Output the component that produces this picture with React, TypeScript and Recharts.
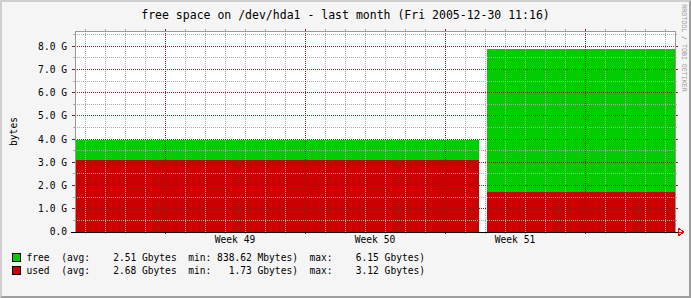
import React from 'react';
import { ComposedChart, Area, XAxis, YAxis, ReferenceLine, CartesianGrid } from 'recharts';

// time in days since start of the month window (Nov 30 11:16 .. Dec 30 11:16)
const timeDays = [0, 20.2, 20.4, 20.6, 30];
const usedGB: (number | null)[] = [3.12, 3.12, null, 1.73, 1.73];
const freeGB: (number | null)[] = [0.84, 0.84, null, 6.15, 6.15];

const weekTickDays = [8, 15, 22];
const weekTickLabels = ['Week 49', 'Week 50', 'Week 51'];
const weekGridDays = [4.5, 11.5, 18.5, 25.5];
const dayGridDays = [0.5, 1.5, 2.5, 3.5, 5.5, 6.5, 7.5, 8.5, 9.5, 10.5, 12.5, 13.5, 14.5, 15.5, 16.5, 17.5, 19.5, 20.5, 21.5, 22.5, 23.5, 24.5, 26.5, 27.5, 28.5, 29.5];
const yMajorTicks = [0, 1, 2, 3, 4, 5, 6, 7, 8];
const yMinorTicks = [0.5, 1.5, 2.5, 3.5, 4.5, 5.5, 6.5, 7.5, 8.5];
const yMax = 8.66;
const xMax = 30;

const seriesNames = ['free', 'used'];
const seriesColors = ['#00CC00', '#CC0000'];
const avgValues = ['2.51', '2.68'];
const avgUnits = ['Gbytes', 'Gbytes'];
const minValues = ['838.62', '1.73'];
const minUnits = ['Mbytes', 'Gbytes'];
const maxValues = ['6.15', '3.12'];
const maxUnits = ['Gbytes', 'Gbytes'];

const titleText = 'free space on /dev/hda1 - last month (Fri 2005-12-30 11:16)';
const yLabel = 'bytes';
const watermark = 'RRDTOOL / TOBI OETIKER';

const data = timeDays.map((t, i) => ({
  t,
  used: usedGB[i],
  total: usedGB[i] == null || freeGB[i] == null ? null : (usedGB[i] as number) + (freeGB[i] as number),
}));

const MONO = '"DejaVu Sans Mono", "Liberation Mono", monospace';
const MINOR = '#ababab';
const MAJOR = '#822020';

const gridShape = (color: string, tick: number, dotted: boolean) => (props: any) => {
  const { x1, y1, x2, y2 } = props;
  const dash = dotted ? '1 1' : undefined;
  if (Math.abs(x1 - x2) < 0.01) {
    const top = Math.min(y1, y2);
    const bot = Math.max(y1, y2);
    return (
      <g>
        <line x1={x1} x2={x1} y1={top} y2={bot} stroke={color} strokeDasharray={dash} />
        {tick > 0 && <line x1={x1} x2={x1} y1={top - tick} y2={top} stroke={color} />}
        {tick > 0 && <line x1={x1} x2={x1} y1={bot} y2={bot + tick} stroke={color} />}
      </g>
    );
  }
  const left = Math.min(x1, x2);
  const right = Math.max(x1, x2);
  return (
    <g>
      <line x1={left} x2={right} y1={y1} y2={y1} stroke={color} strokeDasharray={dash} />
      {tick > 0 && <line x1={left - tick} x2={left} y1={y1} y2={y1} stroke={color} />}
      {tick > 0 && <line x1={right} x2={right + tick} y1={y1} y2={y1} stroke={color} />}
    </g>
  );
};

const axisShape = (props: any) => {
  const { x1, y1, x2 } = props;
  const left = Math.min(x1, x2);
  const right = Math.max(x1, x2);
  return (
    <g>
      <line x1={left - 4} x2={right + 3} y1={y1} y2={y1} stroke="#000" />
      <polygon
        points={`${right + 3},${y1 - 4} ${right + 9},${y1} ${right + 3},${y1 + 4}`}
        fill="none"
        stroke="#ff0000"
      />
      <line x1={right + 3} x2={right + 9} y1={y1} y2={y1} stroke="#ff0000" />
    </g>
  );
};

const legendLine = (i: number) =>
  `${seriesNames[i].padEnd(6)}(avg: ${avgValues[i].padStart(7)} ${avgUnits[i]}  min: ${minValues[i].padStart(6)} ${minUnits[i]})  max: ${maxValues[i].padStart(7)} ${maxUnits[i]})`;

export default function App() {
  return (
    <div style={{ position: 'absolute', left: 0, top: 0, width: 691, height: 298, background: '#F5F5F5', overflow: 'hidden' }}>
      <div
        style={{
          position: 'absolute', left: 0, top: 0, width: 691, height: 298, boxSizing: 'border-box',
          borderTop: '2px solid #CFCFCF', borderLeft: '2px solid #CFCFCF',
          borderRight: '2px solid #9E9E9E', borderBottom: '2px solid #9E9E9E',
        }}
      />
      <div style={{ position: 'absolute', left: 0, top: 0 }}>
        <ComposedChart
          width={691}
          height={298}
          data={data}
          margin={{ top: 31, right: 16, bottom: 0, left: 0 }}
          style={{ shapeRendering: 'crispEdges' }}
        >
          <CartesianGrid horizontal={false} vertical={false} fill="#FFFFFF" />
          <XAxis
            dataKey="t"
            type="number"
            domain={[0, xMax]}
            ticks={weekTickDays}
            tickFormatter={(v: number) => weekTickLabels[weekTickDays.indexOf(v)] ?? ''}
            tickLine={false}
            axisLine={false}
            tickSize={0}
            tickMargin={4}
            height={66}
            interval={0}
            tick={{ fontSize: 9.6, fontFamily: MONO, fill: '#000' }}
          />
          <YAxis
            type="number"
            domain={[0, yMax]}
            ticks={yMajorTicks}
            allowDataOverflow
            tickFormatter={(v: number) => (v === 0 ? '0.0' : `${v.toFixed(1)} G`)}
            tickLine={false}
            axisLine={false}
            tickSize={3}
            tickMargin={5}
            width={75}
            interval={0}
            tick={{ fontSize: 9.6, fontFamily: MONO, fill: '#000' }}
          />
          <Area dataKey="total" type="linear" stroke="none" fill="#00CC00" fillOpacity={1} isAnimationActive={false} connectNulls={false} />
          <Area dataKey="used" type="linear" stroke="none" fill="#CC0000" fillOpacity={1} isAnimationActive={false} connectNulls={false} />
          {dayGridDays.map((d) => (
            <ReferenceLine key={`vd${d}`} x={d} ifOverflow="visible" shape={gridShape(MINOR, 2, true)} />
          ))}
          {yMinorTicks.map((v) => (
            <ReferenceLine key={`hm${v}`} y={v} ifOverflow="visible" shape={gridShape(MINOR, 2, true)} />
          ))}
          {weekGridDays.map((d) => (
            <ReferenceLine key={`vw${d}`} x={d} ifOverflow="visible" shape={gridShape(MAJOR, 2, true)} />
          ))}
          {yMajorTicks.filter((v) => v > 0).map((v) => (
            <ReferenceLine key={`hM${v}`} y={v} ifOverflow="visible" shape={gridShape(MAJOR, 3, true)} />
          ))}
          <ReferenceLine x={0} ifOverflow="visible" shape={gridShape('#999999', 0, false)} />
          <ReferenceLine x={xMax} ifOverflow="visible" shape={gridShape('#999999', 0, false)} />
          <ReferenceLine y={yMax} ifOverflow="visible" shape={gridShape('#999999', 0, false)} />
          <ReferenceLine y={0} ifOverflow="visible" shape={axisShape} />
        </ComposedChart>
      </div>
      <svg width={691} height={298} style={{ position: 'absolute', left: 0, top: 0, pointerEvents: 'none' }}>
        <text x={345.5} y={15} textAnchor="middle" dominantBaseline="central" fontFamily={MONO} fontSize={11.5} fill="#000">
          {titleText}
        </text>
        <text
          x={13.5}
          y={131.5}
          textAnchor="middle"
          dominantBaseline="central"
          fontFamily={MONO}
          fontSize={9.6}
          fill="#000"
          transform="rotate(-90, 13.5, 131.5)"
        >
          {yLabel}
        </text>
        <text
          x={683.5}
          y={48}
          textAnchor="middle"
          dominantBaseline="central"
          fontFamily={MONO}
          fontSize={6.6}
          fill="#999999"
          transform="rotate(90, 683.5, 48)"
        >
          {watermark}
        </text>
        {seriesNames.map((n, i) => (
          <g key={n}>
            <rect x={12.5} y={253.5 + i * 13} width={8} height={8} fill={seriesColors[i]} stroke="#000" strokeWidth={1} />
            <text
              x={26.5}
              y={257.5 + i * 13}
              dominantBaseline="central"
              fontFamily={MONO}
              fontSize={9.6}
              fill="#000"
              xmlSpace="preserve"
              style={{ whiteSpace: 'pre' }}
            >
              {legendLine(i)}
            </text>
          </g>
        ))}
      </svg>
    </div>
  );
}
